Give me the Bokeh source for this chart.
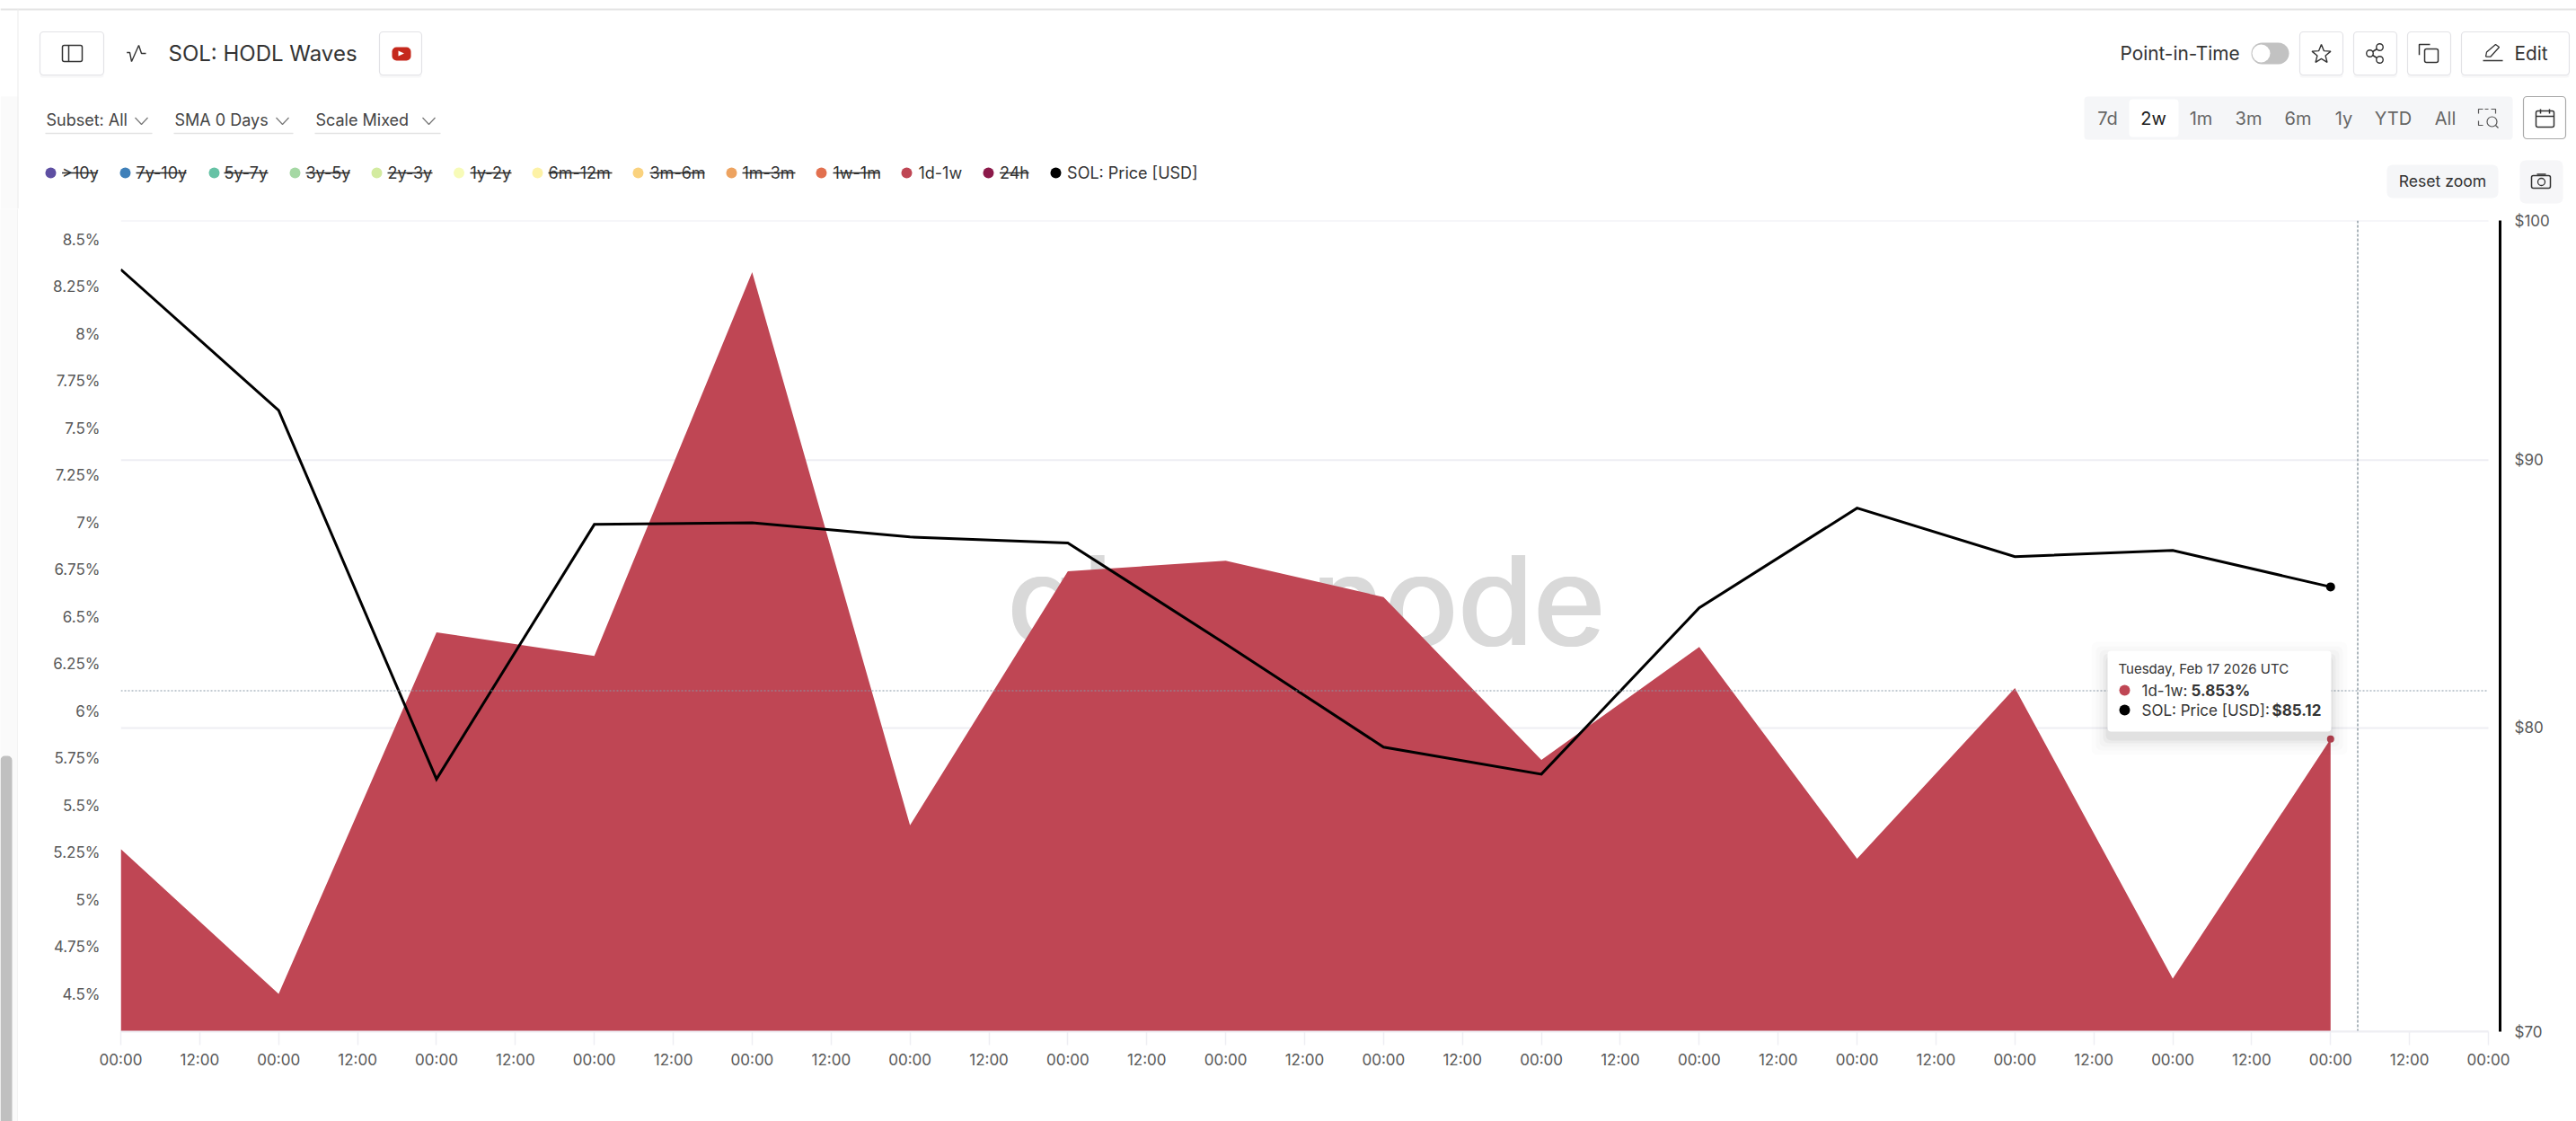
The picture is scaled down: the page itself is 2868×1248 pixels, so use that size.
from datetime import datetime, timedelta
import numpy as np
from bokeh.core.properties import value
from bokeh.embed import file_html
from bokeh.layouts import column, row
from bokeh.models import (CustomJSTickFormatter, DatetimeAxis, DatetimeTickFormatter, FixedTicker,
                          LinearAxis, LogAxis, LogScale, NumeralTickFormatter, Range1d)
from bokeh.plotting import figure
from bokeh.resources import INLINE

# ---------- data ----------
start_date = datetime(2026, 2, 3)
dates = [start_date + timedelta(days=i) for i in range(15)]
wave_1d_1w = [5.270, 4.502, 6.419, 6.294, 8.328, 5.396, 6.742, 6.799, 6.606, 5.742, 6.341, 5.219, 6.124, 4.583, 5.853]
sol_price = [97.87, 91.99, 78.22, 87.49, 87.55, 87.01, 86.78, 83.01, 79.33, 78.39, 84.34, 88.12, 86.26, 86.50, 85.12]
pct_ticks = [4.5, 4.75, 5, 5.25, 5.5, 5.75, 6, 6.25, 6.5, 6.75, 7, 7.25, 7.5, 7.75, 8, 8.25, 8.5]
price_ticks = [70, 80, 90, 100]
legend_labels = [">10y", "7y-10y", "5y-7y", "3y-5y", "2y-3y", "1y-2y", "6m-12m", "3m-6m", "1m-3m", "1w-1m", "1d-1w", "24h", "SOL: Price [USD]"]
legend_colors = ["#5e4fa2", "#3f80b9", "#66c2a5", "#a5d8a4", "#d3eba0", "#f7fbb8", "#fdf2a6", "#fad27e", "#eda360", "#e2704f", "#bf4654", "#8c1a4a", "#000000"]
legend_hidden = [True] * 10 + [False, True, False]
range_labels = ["7d", "2w", "1m", "3m", "6m", "1y", "YTD", "All"]

AREA = "#bf4654"
FONT = value("Inter")
GRID = "#eeeef3"
PAGE_W, PAGE_H = 2868, 1248

# ---------- header strip, drawn in page pixels ----------
H_BOTTOM = 232
hd = figure(width=PAGE_W, height=H_BOTTOM, x_range=Range1d(0, PAGE_W), y_range=Range1d(H_BOTTOM, 0),
            x_axis_location=None, y_axis_location=None, toolbar_location=None, output_backend="svg",
            min_border=0, outline_line_color=None, frame_align=False)
hd.grid.visible = False


def box(x0, y0, x1, y1, fill="#ffffff", line="#e2e2e6", r=4, w=1.2):
    hd.quad(left=[x0], right=[x1], top=[y0], bottom=[y1], fill_color=fill, line_color=line,
            line_width=w, border_radius=r)


def button(x0, x1):
    box(x0, 80, x1, 86, fill="#f7f7f8", line=None)
    box(x0, 35, x1, 83)


def label(p, x, y, s, size, color="#333333", align="left", style="normal", **kw):
    p.text(x=[x], y=[y], text=[s], text_font=FONT, text_font_size=value(size), text_color=color,
           text_align=align, text_baseline="middle", text_font_style=style, **kw)


def stroke(xs, ys, color="#333333", w=1.5, dash="solid"):
    hd.line(xs, ys, line_color=color, line_width=w, line_dash=dash)


def chevron(x, y):
    stroke([x - 7, x, x + 7], [y - 3.5, y + 4, y - 3.5], "#777777", 1.2)


# page furniture
hd.quad(left=[0], right=[20], top=[107], bottom=[H_BOTTOM], fill_color="#fafafa", line_color=None)
stroke([0, PAGE_W], [10, 10], "#e4e4e4", 2)
stroke([19.5, 19.5], [10, H_BOTTOM], "#eeeeee", 1.2)

# title row
button(44, 115)
box(69, 50, 91, 68, fill=None, line="#333333", r=2, w=1.5)
stroke([76, 76], [50, 68])
stroke([140.7, 144, 146, 154, 157, 162], [58, 58, 68, 50, 59, 59], "#333333", 1.4)
label(hd, 187, 58.5, "SOL: HODL Waves", "24px", "#333333")
button(422, 469)
box(436, 52, 457, 67, fill="#c5281c", line=None, r=5)
hd.patch([443, 443, 449.5], [56, 62, 59], fill_color="#ffffff", line_color=None)

label(hd, 2360, 59, "Point-in-Time", "20.8px", "#333333")
box(2506, 47, 2548, 71, fill="#c2c2c2", line=None, r=12)
hd.scatter([2517], [59], size=20, fill_color="#ffffff", line_color=None)
button(2560, 2608)
th = np.linspace(-np.pi / 2, 1.5 * np.pi, 11)
rad = np.where(np.arange(11) % 2 == 0, 11, 4.8)
hd.line(2584 + rad * np.cos(th), 60 + rad * np.sin(th), line_color="#333333", line_width=1.4)
button(2620, 2668)
stroke([2649, 2638, 2649], [52, 59, 66])
hd.scatter([2649, 2638, 2649], [52, 59, 66], size=7.5, fill_color="#ffffff", line_color="#333333", line_width=1.4)
button(2680, 2728)
stroke([2693, 2693, 2705], [60.7, 49, 49])
box(2699, 54, 2714, 69, fill=None, line="#333333", r=2, w=1.5)
button(2740, 2860)
stroke([2767, 2768, 2778, 2782, 2772.5, 2767], [62.7, 57.5, 49, 52, 62.5, 62.7], "#333333", 1.3)
stroke([2764, 2786], [67, 67])
label(hd, 2799, 59.3, "Edit", "20.8px", "#333333")

# controls row
for txt, x0, cx, u0, u1 in [("Subset: All", 51, 157, 50, 169), ("SMA 0 Days", 194, 314, 193, 326), ("Scale Mixed", 351, 477, 350, 490)]:
    label(hd, x0, 133, txt, "18px", "#444444")
    chevron(cx, 134)
    stroke([u0, u1], [148, 148], "#e2e2e2", 1.5)

box(2320, 107, 2797, 155, fill="#f5f6f8", line=None, r=4)
box(2370, 110, 2425, 152, fill="#ffffff", line=None, r=4)
for txt, cx in zip(range_labels, [2346, 2397, 2450, 2503, 2558, 2609, 2664, 2722]):
    label(hd, cx, 131, txt, "20px", "#1c1c1c" if txt == "2w" else "#666666", align="center")
hd.line([2764, 2759, 2759], [121, 121, 126], line_color="#555555", line_width=1.2)
hd.line([2773, 2778, 2778], [121, 121, 126], line_color="#555555", line_width=1.2)
hd.line([2759, 2759, 2764], [134, 139, 139], line_color="#555555", line_width=1.2)
stroke([2766, 2770], [121, 121], "#555555", 1.2)
hd.scatter([2774], [135], size=11, fill_color="#f5f6f8", line_color="#555555", line_width=1.2)
stroke([2778, 2781], [139, 142], "#555555", 1.2)
box(2809, 107, 2856, 154, line="#aaaaaa")
box(2823, 123, 2843, 141, fill=None, line="#333333", r=2, w=1.5)
stroke([2823, 2843], [129, 129])
stroke([2828, 2828], [121, 126])
stroke([2838, 2838], [121, 126])

# legend row
legend_dot_px = [56, 139, 238, 328, 419, 510.5, 598, 710, 814, 914, 1009, 1100, 1175]
legend_text_px = [68.6, 151, 249, 340, 431, 523, 610, 723, 826, 927, 1022, 1112.5, 1187.6]
legend_end_px = [108, 207, 298, 389, 481, 569, 681, 784, 885, 979, 1070, 1145, 1332]
for name, col, hid, dx, tx, ex in zip(legend_labels, legend_colors, legend_hidden, legend_dot_px, legend_text_px, legend_end_px):
    hd.scatter([dx], [192], size=12, fill_color=col, line_color=None)
    label(hd, tx, 192, name, "18px", "#333333")
    if hid:
        stroke([tx, ex], [192, 192], "#2a2a2a", 1.4)

box(2657, 183, 2781, 220, fill="#f5f6f8", line=None, r=6)
label(hd, 2719, 201, "Reset zoom", "17.6px", "#333333", align="center")
box(2805, 178, 2853, 226, fill="#f6f6f8", line=None, r=6)
box(2818, 195, 2839, 209, fill=None, line="#333333", r=2, w=1.5)
hd.scatter([2829], [202], size=8, fill_color=None, line_color="#333333", line_width=1.3)
stroke([2824, 2834], [193.5, 193.5])

# ---------- left page strip with scrollbar ----------
STRIP_W = 20
CHART_H = PAGE_H - H_BOTTOM
strip = figure(width=STRIP_W, height=CHART_H, x_range=Range1d(0, STRIP_W), y_range=Range1d(PAGE_H, H_BOTTOM),
               x_axis_location=None, y_axis_location=None, toolbar_location=None, output_backend="svg",
               min_border=0, outline_line_color=None, frame_align=False, background_fill_color="#fafafa")
strip.grid.visible = False
strip.quad(left=[0], right=[13], top=[841], bottom=[PAGE_H + 10], fill_color="#c0c0c0", line_color=None, border_radius=5)
strip.line([19.5, 19.5], [H_BOTTOM, PAGE_H], line_color="#eeeeee", line_width=1.2)

# ---------- chart ----------
X0_PX, X_AXIS_END_PX, FRAME_RIGHT_PX, TOP_PX, BOTTOM_PX = 134, 2770, 2783, 245, 1148
PX_PER_DAY = (X_AXIS_END_PX - X0_PX) / 15.0
x_end = start_date + timedelta(days=(FRAME_RIGHT_PX - X0_PX) / PX_PER_DAY)
axis_end = start_date + timedelta(days=15)

p = figure(width=PAGE_W - STRIP_W, height=CHART_H, x_axis_type="datetime",
           x_range=Range1d(start_date, x_end), y_range=Range1d(4.302, 8.602),
           toolbar_location=None, output_backend="svg", outline_line_color=None, frame_align=False,
           min_border_left=X0_PX - STRIP_W, min_border_right=PAGE_W - FRAME_RIGHT_PX,
           min_border_top=TOP_PX - H_BOTTOM, min_border_bottom=PAGE_H - BOTTOM_PX,
           x_axis_location=None, y_axis_location=None)
p.grid.visible = False
p.extra_y_ranges["price"] = Range1d(70, 100)
p.extra_y_scales["price"] = LogScale()
p.extra_x_ranges["px"] = Range1d(X0_PX, FRAME_RIGHT_PX)
p.extra_y_ranges["px"] = Range1d(BOTTOM_PX, TOP_PX)

TICK_STYLE = dict(major_label_text_font="Inter", major_label_text_font_size="17px", major_label_text_color="#595959")

left = LinearAxis(ticker=FixedTicker(ticks=pct_ticks), formatter=CustomJSTickFormatter(code='return tick + "%"'),
                  axis_line_color=None, major_tick_line_color=None, minor_tick_line_color=None,
                  major_label_standoff=17, **TICK_STYLE)
p.add_layout(left, "left")

epoch = datetime(1970, 1, 1)
x_ticks = [(start_date + timedelta(hours=12 * i) - epoch).total_seconds() * 1000 for i in range(31)]
fmt = "%H:%M"
bottom = DatetimeAxis(ticker=FixedTicker(ticks=x_ticks),
                      formatter=DatetimeTickFormatter(hours=fmt, hourmin=fmt, minutes=fmt, days=fmt, months=fmt, years=fmt,
                                                      seconds=fmt, minsec=fmt, milliseconds=fmt, microseconds=fmt),
                      axis_line_color=GRID, axis_line_width=2, major_tick_line_color=GRID, major_tick_line_width=1.5,
                      major_tick_out=15, major_tick_in=0, minor_tick_line_color=None, major_label_standoff=6,
                      bounds=(start_date, axis_end), **TICK_STYLE)
p.add_layout(bottom, "below")

right = LogAxis(y_range_name="price", ticker=FixedTicker(ticks=price_ticks), formatter=NumeralTickFormatter(format="$0"),
                axis_line_color="#000000", axis_line_width=3, major_tick_line_color=None, minor_tick_line_color=None,
                major_label_standoff=10, **TICK_STYLE)
p.add_layout(right, "right")

PX = dict(x_range_name="px", y_range_name="px")

# watermark and grid
for dx in (-1.5, 0, 1.5):
    label(p, 1121 + dx, 667, "glassnode", "137px", "#d9d9d9", **PX)
p.segment(x0=[start_date] * 4, x1=[axis_end] * 4, y0=price_ticks, y1=price_ticks, y_range_name="price",
          line_color=GRID, line_width=2)

p.varea(x=dates, y1=[p.y_range.start] * len(dates), y2=wave_1d_1w, fill_color=AREA)
p.line(dates, sol_price, y_range_name="price", line_color="#000000", line_width=3, line_join="miter")
p.scatter(dates[-1:], wave_1d_1w[-1:], size=8, fill_color=AREA, line_color=None)
p.scatter(dates[-1:], sol_price[-1:], y_range_name="price", size=10, fill_color="#000000", line_color=None)

# crosshair
p.line([X0_PX, X_AXIS_END_PX], [768.5, 768.5], line_color="#8797a6", line_width=1.2, line_dash="2 2", **PX)
p.line([2624.5, 2624.5], [TOP_PX, BOTTOM_PX], line_color="#76858f", line_width=1.2, line_dash="3 2", **PX)

# tooltip
for grow, a in [(18, 0.012), (13, 0.016), (9, 0.02), (5, 0.03), (2, 0.04)]:
    p.quad(left=[2346 - grow], right=[2595 + grow], top=[724 - grow + 8], bottom=[814 + grow + 8],
           fill_color="#000000", fill_alpha=a, line_color=None, border_radius=6, **PX)
p.quad(left=[2346], right=[2595], top=[724], bottom=[814], fill_color="#ffffff", line_color=None, border_radius=4, **PX)
label(p, 2358, 744, "Tuesday, Feb 17 2026 UTC", "15px", "#333333", **PX)
p.scatter([2365], [768], size=12, fill_color=AREA, line_color=None, **PX)
label(p, 2384, 768, "1d-1w:", "17px", "#333333", **PX)
label(p, 2439, 768, "5.853%", "17px", "#333333", style="bold", **PX)
p.scatter([2365], [790], size=12, fill_color="#000000", line_color=None, **PX)
label(p, 2384, 790, "SOL: Price [USD]:", "17px", "#333333", **PX)
label(p, 2529, 790, "$85.12", "17px", "#333333", style="bold", **PX)

page = column(hd, row(strip, p, spacing=0), spacing=0)
open("out.html", "w").write(file_html(page, INLINE))
